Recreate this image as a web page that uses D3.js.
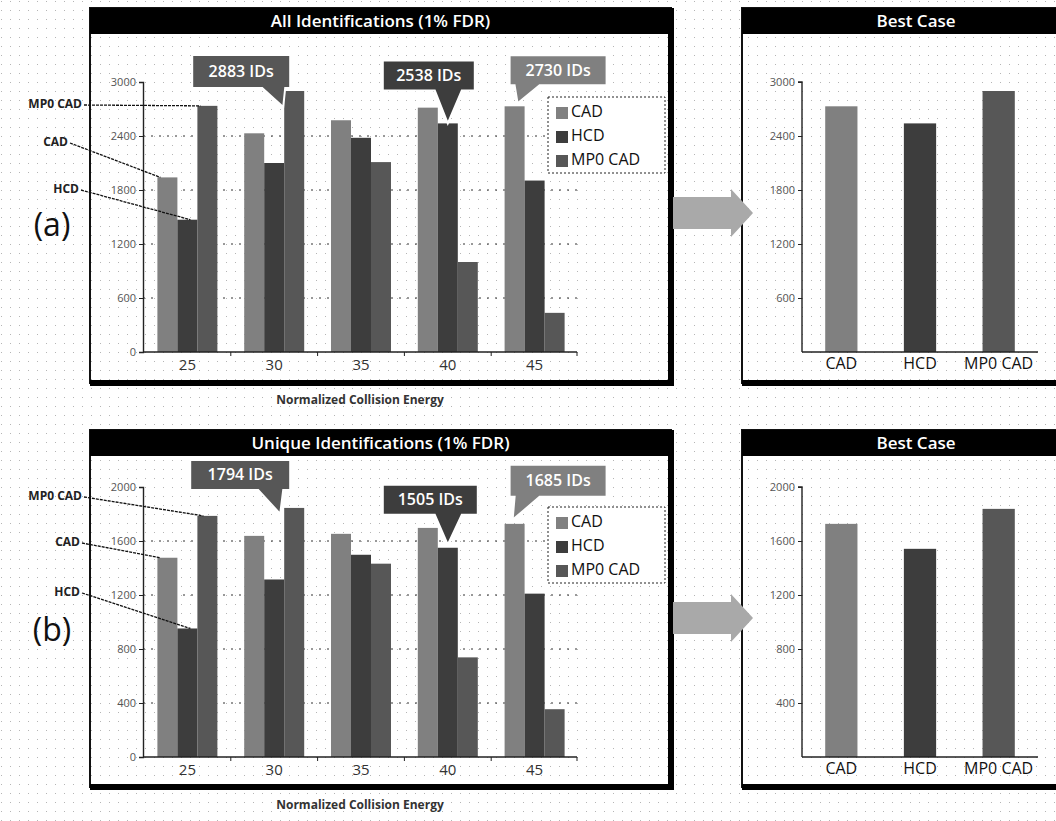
<!DOCTYPE html>
<html>
<head>
<meta charset="utf-8">
<script src="https://cdn.jsdelivr.net/npm/d3@7"></script>
<style>
  body { margin: 0; background: #fff; }
  text { font-family: "Open Sans", "Lato", sans-serif; }
</style>
</head>
<body>
<svg id="chart" width="1056" height="821"></svg>
<script>
// Collision energies (x axis of the left charts) and the three methods
const energies = ["25", "30", "35", "40", "45"];
const methods = ["CAD", "HCD", "MP0 CAD"];

// (a) All identifications (1% FDR)
const allCAD = [1940, 2430, 2575, 2715, 2730];
const allHCD = [1470, 2100, 2380, 2540, 1905];
const allMP0 = [2735, 2900, 2110, 1000, 435];
const allBest = [2730, 2540, 2900];
const allTicks = [0, 600, 1200, 1800, 2400, 3000];
const allCallouts = ["2883 IDs", "2538 IDs", "2730 IDs"];

// (b) Unique identifications (1% FDR)
const uniqCAD = [1476, 1638, 1653, 1697, 1727];
const uniqHCD = [952, 1315, 1498, 1550, 1210];
const uniqMP0 = [1786, 1845, 1432, 738, 354];
const uniqBest = [1727, 1542, 1838];
const uniqTicks = [0, 400, 800, 1200, 1600, 2000];
const uniqCallouts = ["1794 IDs", "1505 IDs", "1685 IDs"];

// grey shades for the methods
const colors = d3.scaleOrdinal().domain(methods).range(["#808080", "#3d3d3d", "#575757"]);
const fmt = d3.format("d");

const svg = d3.select("#chart");

// faint dotted paper background
const defs = svg.append("defs");
const pat = defs.append("pattern").attr("id", "dots")
    .attr("width", 9).attr("height", 9).attr("patternUnits", "userSpaceOnUse");
pat.append("rect").attr("x", 1).attr("y", 1).attr("width", 1).attr("height", 1).attr("fill", "#b5b5b5");
svg.append("rect").attr("width", 1056).attr("height", 821).attr("fill", "#fff");
svg.append("rect").attr("width", 1056).attr("height", 821).attr("fill", "url(#dots)");

// draws a framed box with a black title bar
function drawFrame(x0, x1, top, bottom, title) {
    let g = svg.append("g");
    g.append("rect").attr("x", x0).attr("y", top).attr("width", x1 - x0).attr("height", bottom - top)
        .attr("fill", "none").attr("stroke", "#111").attr("stroke-width", 2);
    // heavy right and bottom border
    g.append("line").attr("x1", x1).attr("x2", x1).attr("y1", top).attr("y2", bottom + 3)
        .attr("stroke", "#000").attr("stroke-width", 6);
    g.append("line").attr("x1", x0).attr("x2", x1 + 3).attr("y1", bottom).attr("y2", bottom)
        .attr("stroke", "#000").attr("stroke-width", 6);
    g.append("rect").attr("x", x0).attr("y", top).attr("width", x1 - x0).attr("height", 26).attr("fill", "#000");
    g.append("text").attr("x", (x0 + x1) / 2).attr("y", top + 14)
        .attr("text-anchor", "middle").attr("dominant-baseline", "middle")
        .attr("fill", "#fff").attr("font-size", 17).attr("font-weight", 600)
        .text(title);
}

function styleAxis(g) {
    g.select(".domain").attr("stroke", "#222").attr("stroke-width", 1.4);
    g.selectAll(".tick line").attr("stroke", "#222");
}

// one row of the figure: grouped bar chart on the left, best case on the right
function drawRow(cfg) {
    drawFrame(90, 671, cfg.frameTop, cfg.frameBottom, cfg.title);
    drawFrame(742, 1090, cfg.frameTop, cfg.frameBottom, "Best Case");

    let y = d3.scaleLinear().domain([0, cfg.ticks[cfg.ticks.length - 1]]).range([cfg.yBase, cfg.yTop]);
    let x0 = d3.scaleBand().domain(energies).range([144, 578]);
    let x1 = d3.scaleBand().domain(methods).range([0, 60]);
    let off = (x0.bandwidth() - 60) / 2;

    // dashed gridlines
    svg.append("g").selectAll("line").data(cfg.ticks.slice(1, -1)).join("line")
        .attr("x1", 143).attr("x2", 577)
        .attr("y1", d => y(d)).attr("y2", d => y(d))
        .attr("stroke", "#333").attr("stroke-width", 1).attr("stroke-dasharray", "2,6");

    // bars
    let rows = [];
    energies.forEach((e, i) => {
        cfg.series.forEach((arr, s) => rows.push({ e: e, m: methods[s], v: arr[i] }));
    });
    svg.append("g").selectAll("rect").data(rows).join("rect")
        .attr("x", d => x0(d.e) + off + x1(d.m))
        .attr("y", d => y(d.v))
        .attr("width", x1.bandwidth())
        .attr("height", d => cfg.yBase - y(d.v))
        .attr("fill", d => colors(d.m));

    // y axis
    let ya = svg.append("g").attr("transform", "translate(143,0)")
        .call(d3.axisLeft(y).tickValues(cfg.ticks).tickFormat(fmt).tickSize(4).tickPadding(3));
    styleAxis(ya);
    ya.selectAll("text").attr("font-size", 11).attr("fill", "#555");

    // x axis
    let xa = svg.append("g").attr("transform", `translate(0,${cfg.yBase})`)
        .call(d3.axisBottom(x0).tickSize(0).tickPadding(7));
    xa.select(".domain").attr("d", `M143,0H577`);
    styleAxis(xa);
    xa.selectAll("text").attr("font-size", 15).attr("fill", "#333");
    xa.selectAll(".bound").data(energies.slice(1).concat(["end"])).join("line")
        .attr("x1", d => d === "end" ? 577 : x0(d)).attr("x2", d => d === "end" ? 577 : x0(d))
        .attr("y1", 0).attr("y2", 4).attr("stroke", "#222");

    svg.append("text").attr("x", 360).attr("y", cfg.yBase + 49)
        .attr("text-anchor", "middle").attr("dominant-baseline", "middle")
        .attr("font-size", 12).attr("font-weight", 700).attr("fill", "#333")
        .text("Normalized Collision Energy");

    // legend
    let lg = svg.append("g").attr("transform", `translate(548,${cfg.yTop + cfg.legendDy})`);
    lg.append("rect").attr("width", 117).attr("height", 76).attr("fill", "#fff")
        .attr("stroke", "#222").attr("stroke-dasharray", "2,2");
    methods.forEach((m, i) => {
        lg.append("rect").attr("x", 8).attr("y", 10 + i * 24).attr("width", 12).attr("height", 12).attr("fill", colors(m));
        lg.append("text").attr("x", 23).attr("y", 16 + i * 24).attr("dominant-baseline", "middle")
            .attr("font-size", 16).attr("fill", "#111").text(m);
    });

    // callouts pointing at the best bar of each method
    cfg.callouts.forEach((c, i) => {
        let m = methods[c.s], e = energies[c.g];
        let cx = x0(e) + off + x1(m) + x1.bandwidth() / 2;
        let ty = y(cfg.series[c.s][c.g]);
        let bx = cx + c.box[0], by = ty + c.box[1], bw = c.box[2], bh = c.box[3];
        let tx = cx + c.tip[0], tyy = ty + c.tip[1];
        let g = svg.append("g");
        g.append("path")
            .attr("d", `M${bx},${by}H${bx + bw}V${by + bh}H${cx + c.base[1]}L${tx},${tyy}L${cx + c.base[0]},${by + bh}H${bx}Z`)
            .attr("fill", colors(m)).attr("stroke", "#fff").attr("stroke-width", 2);
        g.append("text").attr("x", bx + bw / 2).attr("y", by + bh / 2 + 1)
            .attr("text-anchor", "middle").attr("dominant-baseline", "middle")
            .attr("fill", "#fff").attr("font-size", 16).attr("font-weight", 600)
            .text(cfg.calloutText[i]);
    });

    // method labels on the far left
    cfg.notes.forEach(n => {
        let m = methods[n.s];
        let bl = x0(energies[0]) + off + x1(m);
        let ty = y(cfg.series[n.s][0]);
        svg.append("line").attr("x1", n.x + 2).attr("y1", n.y).attr("x2", bl + n.dx).attr("y2", ty)
            .attr("stroke", "#111").attr("stroke-width", 1.3).attr("stroke-dasharray", "3,1");
        svg.append("text").attr("x", n.x).attr("y", n.y).attr("text-anchor", "end")
            .attr("dominant-baseline", "middle").attr("font-size", 12).attr("font-weight", 700)
            .attr("fill", "#222").text(m);
    });

    svg.append("text").attr("x", 52).attr("y", cfg.yBase - 125)
        .attr("text-anchor", "middle").attr("dominant-baseline", "middle")
        .attr("font-family", "Liberation Sans, Arial, sans-serif").attr("font-size", 32)
        .attr("fill", "#111").text(cfg.tag);

    // arrow to the best case chart
    let ay = cfg.yBase - 139;
    svg.append("path")
        .attr("d", `M673,${ay - 16}H731V${ay - 24}L753,${ay}L731,${ay + 24}V${ay + 16}H673Z`)
        .attr("fill", "#a9a9a9");

    // best case chart
    let xb = d3.scaleBand().domain(methods).range([802, 1038]).paddingInner(0.59).paddingOuter(0.295);
    svg.append("g").selectAll("rect").data(methods).join("rect")
        .attr("x", d => xb(d)).attr("width", xb.bandwidth())
        .attr("y", (d, i) => y(cfg.best[i]))
        .attr("height", (d, i) => cfg.yBase - y(cfg.best[i]))
        .attr("fill", d => colors(d));
    let yb = svg.append("g").attr("transform", "translate(802,0)")
        .call(d3.axisLeft(y).tickValues(cfg.ticks.slice(1)).tickFormat(fmt).tickSize(4).tickPadding(3));
    yb.select(".domain").attr("d", `M-4,${cfg.yTop}H0V${cfg.yBase}`);
    styleAxis(yb);
    yb.selectAll("text").attr("font-size", 11).attr("fill", "#555");
    let xbA = svg.append("g").attr("transform", `translate(0,${cfg.yBase})`)
        .call(d3.axisBottom(xb).tickSize(0).tickPadding(6));
    xbA.select(".domain").attr("d", "M802,0H1038");
    styleAxis(xbA);
    xbA.selectAll("text").attr("font-size", 16).attr("fill", "#111");
}

drawRow({
    title: "All Identifications (1% FDR)", tag: "(a)",
    frameTop: 8, frameBottom: 383, yTop: 82, yBase: 352, legendDy: 15,
    ticks: allTicks, series: [allCAD, allHCD, allMP0], best: allBest,
    calloutText: allCallouts,
    callouts: [
        { s: 2, g: 1, box: [-102, -36, 98, 33], tip: [-11, 16], base: [-32, -9] },
        { s: 1, g: 3, box: [-65, -63, 92, 30], tip: [0, 0], base: [-13, 14] },
        { s: 0, g: 4, box: [-5, -51, 97, 30], tip: [3, -3], base: [0, 25] }
    ],
    notes: [
        { s: 2, x: 82, y: 105, dx: 3 },
        { s: 0, x: 68, y: 143, dx: 3 },
        { s: 1, x: 79, y: 190, dx: 13 }
    ]
});

drawRow({
    title: "Unique Identifications (1% FDR)", tag: "(b)",
    frameTop: 430, frameBottom: 787, yTop: 487, yBase: 757, legendDy: 20,
    ticks: uniqTicks, series: [uniqCAD, uniqHCD, uniqMP0], best: uniqBest,
    calloutText: uniqCallouts,
    callouts: [
        { s: 2, g: 1, box: [-104, -48, 100, 30], tip: [-14, 6], base: [-36, -11] },
        { s: 1, g: 3, box: [-65, -63, 95, 30], tip: [0, -3], base: [-13, 14] },
        { s: 0, g: 4, box: [-5, -59, 97, 32], tip: [-2, -4], base: [0, 25] }
    ],
    notes: [
        { s: 2, x: 82, y: 497, dx: 6 },
        { s: 0, x: 80, y: 543, dx: 3 },
        { s: 1, x: 80, y: 593, dx: 13 }
    ]
});
</script>
</body>
</html>
